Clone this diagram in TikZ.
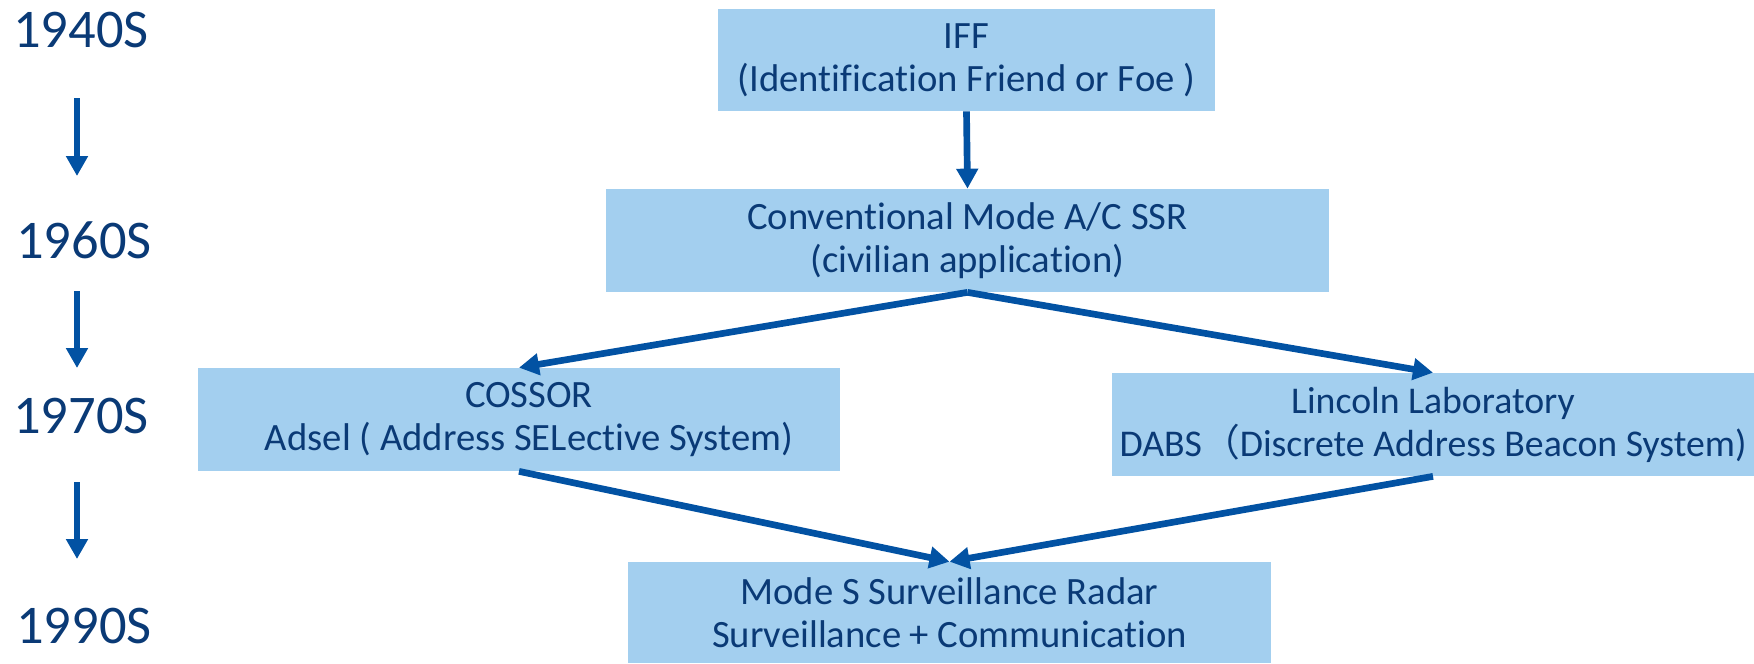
\documentclass[tikz,border=0pt]{standalone}
\usepackage{fontspec}
\setmainfont[Ligatures=NoCommon]{Carlito}
\newfontfamily\cjkfont{Noto Sans CJK SC}
\usetikzlibrary{arrows.meta}
\definecolor{boxfill}{RGB}{163,207,239}
\definecolor{txtblue}{RGB}{10,58,118}
\definecolor{arrblue}{RGB}{2,82,163}
\tikzset{
  era/.style={anchor=base west, inner sep=0pt, text=txtblue, font=\fontsize{31}{34}\selectfont},
  stagebox/.style={rectangle, fill=boxfill, draw=none, inner sep=0pt, align=center,
     text=txtblue, font=\fontsize{22}{24.4}\selectfont},
  flow/.style={draw=arrblue, line width=3.8pt, -{Triangle[length=0.4cm,width=0.42cm]}},
}
\begin{document}
\begin{tikzpicture}[x=0.02cm,y=-0.02cm]
\useasboundingbox (0,0) rectangle (1754,663);
% era labels
\node[era] (y40) at (13,47) {1940S};
\node[era] (y60) at (16,258) {1960S};
\node[era] (y70) at (13,433) {1970S};
\node[era] (y90) at (16,643) {1990S};
% timeline arrow ends
\coordinate (a1s) at (77,98);  \coordinate (a1e) at (77,176);
\coordinate (a2s) at (77,291); \coordinate (a2e) at (77,368);
\coordinate (a3s) at (77,482); \coordinate (a3e) at (77,559);
\draw[flow] (a1s) -- (a1e);
\draw[flow] (a2s) -- (a2e);
\draw[flow] (a3s) -- (a3e);
% boxes
\node[stagebox, minimum width=497*0.02cm, minimum height=102*0.02cm] (iff) at (966.5,60)
  {IFF\\(Identification Friend or Foe )};
\node[stagebox, minimum width=723*0.02cm, minimum height=103*0.02cm] (conv) at (967.5,240.5)
  {Conventional Mode A/C SSR\\(civilian application)};
\node[stagebox, minimum width=642*0.02cm, minimum height=103*0.02cm] (cossor) at (519,419.5)
  {\hspace{0.4cm}COSSOR\\\hspace{0.4cm}Adsel ( Address SELective System)};
\node[stagebox, minimum width=642*0.02cm, minimum height=103*0.02cm,
  font=\fontsize{21.5}{24.4}\selectfont] (lincoln) at (1433,424.5)
  {Lincoln Laboratory\\DABS{\cjkfont （}Discrete Address Beacon System)};
\node[stagebox, minimum width=643*0.02cm, minimum height=101*0.02cm] (modes) at (949.5,612.5)
  {Mode S Surveillance Radar\\Surveillance + Communication};
% connectors
\draw[flow] (iff.south) -- (conv.north);
\draw[flow] (conv.south) -- (cossor.north);
\draw[flow] (conv.south) -- (lincoln.north);
\draw[flow] (cossor.south) -- (modes.north);
\draw[flow] (lincoln.south) -- (modes.north);
\end{tikzpicture}
\end{document}
